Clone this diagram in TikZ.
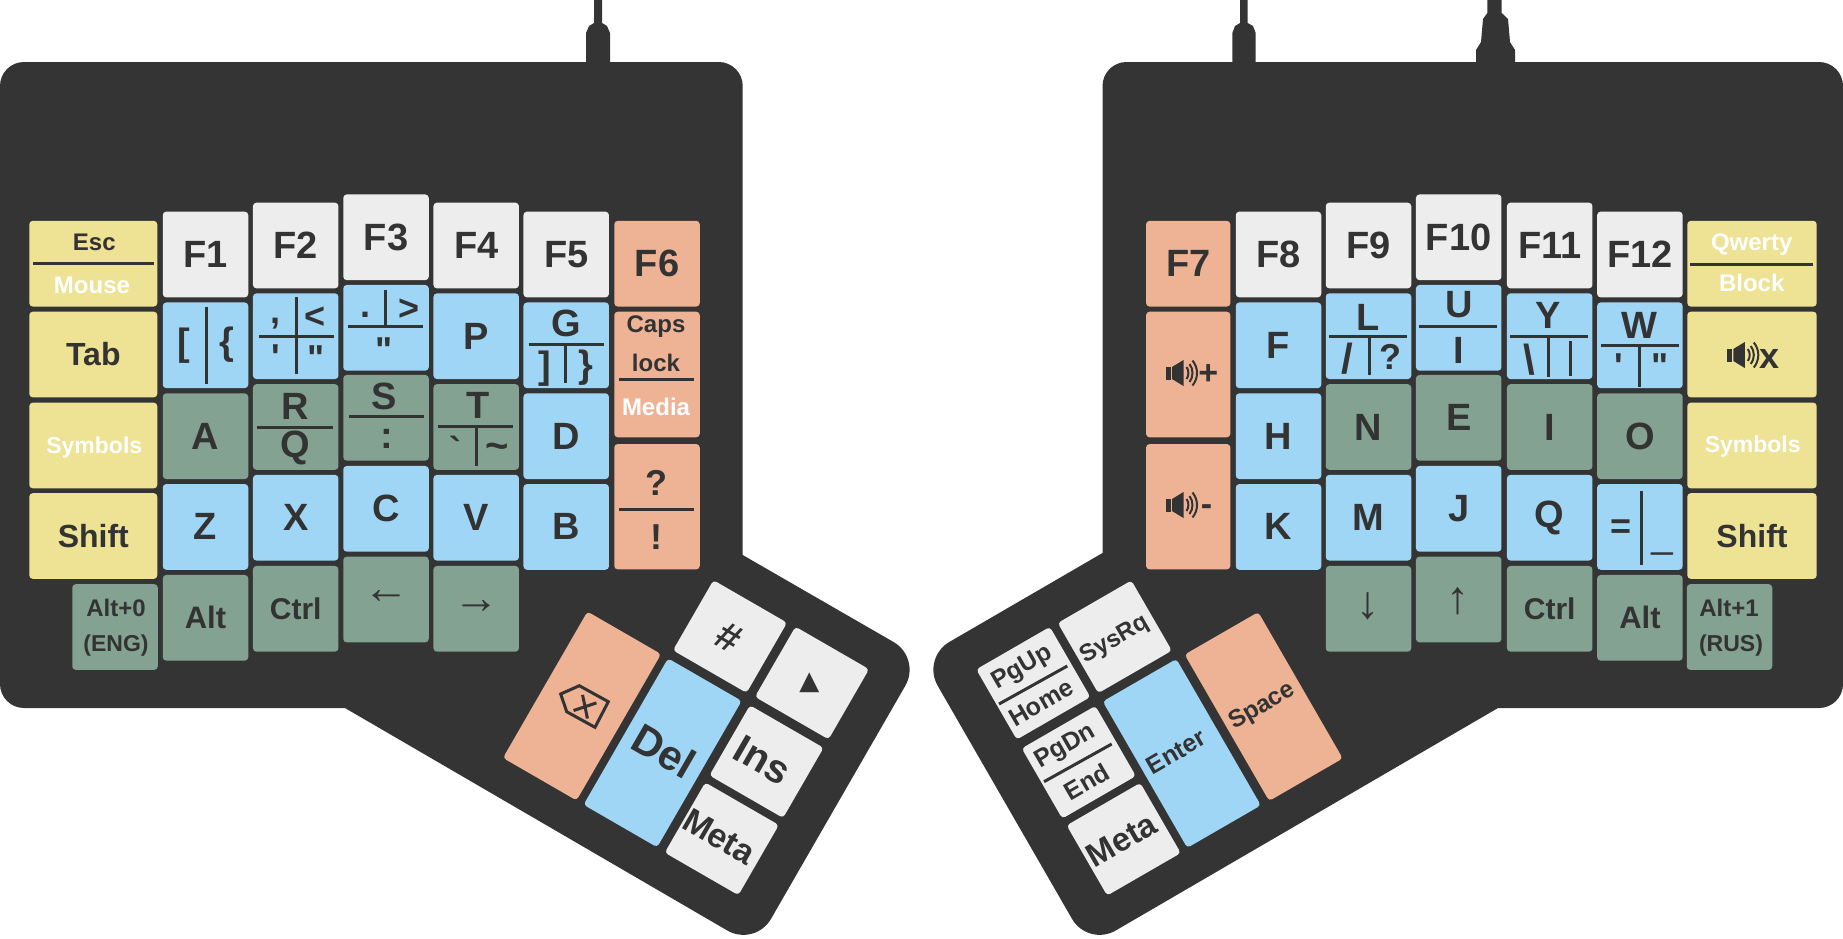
\documentclass[tikz,border=0pt]{standalone}
\usepackage{fontspec}
\newfontfamily\keyfont{Liberation Sans}
\newfontfamily\symbolfont{DejaVu Sans}
\definecolor{casegray}{HTML}{343434}
\definecolor{inkdark}{HTML}{333333}
\definecolor{keywhite}{HTML}{EDEDED}
\definecolor{keyblue}{HTML}{9FD6F6}
\definecolor{keygreen}{HTML}{84A292}
\definecolor{keyyellow}{HTML}{EEE294}
\definecolor{keyorange}{HTML}{EEB294}
\newcommand{\tagsize}[1]{\fontsize{#1}{#1}\selectfont\keyfont\bfseries}
\tikzset{
  keycap/.style={rectangle, rounded corners=3.5pt, inner sep=0pt, minimum width=85.5pt, minimum height=85.7pt, text=inkdark, font=\tagsize{38}},
  whitecap/.style={keycap, fill=keywhite},
  bluecap/.style={keycap, fill=keyblue},
  greencap/.style={keycap, fill=keygreen},
  yellowcap/.style={keycap, fill=keyyellow},
  orangecap/.style={keycap, fill=keyorange},
  keytag/.style={inner sep=0pt, text=inkdark, font=\tagsize{#1}},
  keytag/.default=36,
  lighttag/.style={inner sep=0pt, text=white, font=\tagsize{24}},
  keyrule/.style={draw=inkdark, line width=3pt},
  arrowtag/.style={inner sep=0pt, text=inkdark, font=\fontsize{46}{46}\selectfont\keyfont\mdseries},
  speaker/.pic={
    \fill[inkdark] (-16,-6.5) rectangle (-11,6.5);
    \fill[inkdark] (-10,-6) -- (1.5,-13) -- (1.5,13) -- (-10,6) -- cycle;
    \draw[inkdark, line width=2pt] (4.5,-6) .. controls (7,-3) and (7,3) .. (4.5,6);
    \draw[inkdark, line width=2pt] (7.5,-9) .. controls (11.5,-4) and (11.5,4) .. (7.5,9);
    \draw[inkdark, line width=2pt] (10.5,-12.5) .. controls (16.5,-5) and (16.5,5) .. (10.5,12.5);
  }
}
\begin{document}
\begin{tikzpicture}[x=1pt, y=-1pt]
    \useasboundingbox (0,0) rectangle (1843,938);

    % Cases
    \fill[casegray] (0,100) [rounded corners=24pt] -- (0,62) -- (742.7,62) [sharp corners] -- (742.7,555)
        [rounded corners=32pt] -- (921.3,658) -- (755,946.6) [sharp corners] -- (345,708)
        [rounded corners=24pt] -- (0,708) [sharp corners] -- (0,100) -- cycle;
    \fill[casegray] (1843,100) [rounded corners=24pt] -- (1843,62) -- (1102.5,62) [sharp corners] -- (1102.5,553)
        [rounded corners=32pt] -- (921.7,658) -- (1088,946.6) [sharp corners] -- (1498,708)
        [rounded corners=24pt] -- (1843,708) [sharp corners] -- (1843,100) -- cycle;

    % Cables
    \fill[casegray] (594,0) -- (594,23) -- (589,26) -- (586,33) -- (586,63) -- (610,63) -- (610,33) -- (607,26) -- (602,23) -- (602,0) -- cycle;
    \fill[casegray] (1240,0) -- (1240,23) -- (1235,26) -- (1232.3,33) -- (1232.3,63) -- (1255.7,63) -- (1255.7,33) -- (1253,26) -- (1247.7,23) -- (1247.7,0) -- cycle;
    \fill[casegray] (1487.3,0) -- (1487.3,13) -- (1483,19) -- (1481,42) -- (1476,50) -- (1476,63) -- (1515,63) -- (1515,50) -- (1510,42) -- (1508,19) -- (1501.7,13) -- (1501.7,0) -- cycle;

    % Left outer column
    \node[yellowcap, minimum width=128pt] (esc) at (93.3,263.7) {};
    \node[keytag=24] (escTop) at (94.3,242.3) {Esc};
    \node[lighttag] (escLow) at (92,285) {Mouse};
    \draw[keyrule] (33.3,263.3) -- (153.7,263.3);
    \node[yellowcap, minimum width=128pt, font=\tagsize{32}] (tab) at (93.3,354.5) {Tab};
    \node[yellowcap, minimum width=128pt] (symbolsL) at (93.3,445.5) {};
    \node[lighttag, font=\tagsize{23}] (symbolsLTag) at (94.3,448) {Symbols};
    \node[yellowcap, minimum width=128pt, font=\tagsize{32}] (shiftL) at (93.3,536) {Shift};
    \node[greencap] (altZero) at (115,627) {};
    \node[keytag=24] (altZeroTop) at (116,608.3) {Alt+0};
    \node[keytag=23] (altZeroLow) at (116,645.7) {(ENG)};

    % F1 column
    \node[whitecap] (fOne) at (205.5,254.5) {F1};
    \node[bluecap] (brace) at (205.5,345.3) {};
    \node[keytag=38] (braceA) at (184.3,345.7) {[};
    \node[keytag=38] (braceB) at (226.7,345) {\{};
    \draw[keyrule] (206,306.7) -- (206,384);
    \node[greencap] (keyA) at (205.5,436.2) {A};
    \node[bluecap] (keyZ) at (205.5,526.9) {Z};
    \node[greencap, font=\tagsize{31}] (altL) at (205.5,617.8) {Alt};

    % F2 column
    \node[whitecap] (fTwo) at (295.7,245.5) {F2};
    \node[bluecap] (comma) at (295.7,336.2) {};
    \node[keytag] (commaA) at (275.7,323.3) {,};
    \node[keytag] (commaB) at (315,317.3) {<};
    \node[keytag] (commaC) at (276,357) {'};
    \node[keytag] (commaD) at (316,358.6) {"};
    \draw[keyrule] (296,297.3) -- (296,374.3);
    \draw[keyrule] (259,336.7) -- (334,336.7);
    \node[greencap] (keyRQ) at (295.7,427) {};
    \node[keytag=38] (keyR) at (295.7,406.7) {R};
    \node[keytag=38] (keyQ) at (295.7,448.3) {Q};
    \draw[keyrule] (257.3,427.3) -- (332.7,427.3);
    \node[bluecap] (keyX) at (295.7,517.7) {X};
    \node[greencap, font=\tagsize{30}] (ctrlL) at (295.7,608.8) {Ctrl};

    % F3 column
    \node[whitecap] (fThree) at (386,237.3) {F3};
    \node[bluecap] (dot) at (386,327.8) {};
    \node[keytag] (dotA) at (365.7,315) {.};
    \node[keytag] (dotB) at (409.3,309.3) {>};
    \node[keytag] (dotC) at (384.3,350.3) {"};
    \draw[keyrule] (385.7,290) -- (385.7,326.7);
    \draw[keyrule] (348.3,326.7) -- (423.3,326.7);
    \node[greencap] (keyS) at (386,417.8) {};
    \node[keytag=38] (keySTop) at (384,396) {S};
    \node[keytag=38] (keySLow) at (386.7,439.3) {:};
    \draw[keyrule] (348.7,416.7) -- (423.7,416.7);
    \node[bluecap] (keyC) at (386,508.8) {C};
    \node[greencap] (left) at (386,599.5) {};
    \node[arrowtag] (leftTag) at (386.7,597.3) {←};

    % F4 column
    \node[whitecap] (fFour) at (476.2,245.5) {F4};
    \node[bluecap] (keyP) at (476.2,336.2) {P};
    \node[greencap] (keyT) at (476.2,427) {};
    \node[keytag=38] (keyTTop) at (477.7,405.7) {T};
    \node[keytag] (keyTA) at (455.7,449) {`};
    \node[keytag=40] (keyTB) at (497.3,451) {\char`~};
    \draw[keyrule] (438,426.7) -- (513,426.7);
    \draw[keyrule] (476.7,426.7) -- (476.7,466);
    \node[bluecap] (keyV) at (476.2,517.7) {V};
    \node[greencap] (right) at (476.2,608.8) {};
    \node[arrowtag] (rightTag) at (476,606.7) {→};

    % F5 column
    \node[whitecap] (fFive) at (566.2,254.5) {F5};
    \node[bluecap] (keyG) at (566.2,345.3) {};
    \node[keytag=38] (keyGTop) at (566,323.3) {G};
    \node[keytag=38] (keyGA) at (545,368.3) {]};
    \node[keytag=38] (keyGB) at (585.7,367.7) {\}};
    \draw[keyrule] (528.7,344.7) -- (603.7,344.7);
    \draw[keyrule] (565.7,344.7) -- (565.7,383.3);
    \node[bluecap] (keyD) at (566.2,436.2) {D};
    \node[bluecap] (keyB) at (566.2,526.9) {B};

    % F6 column
    \node[orangecap] (fSix) at (657,263.7) {F6};
    \node[orangecap, minimum height=125.6pt] (caps) at (657,374.5) {};
    \node[keytag=24] (capsA) at (656,326.7) {Caps};
    \node[keytag=24] (capsB) at (656,363.3) {lock};
    \node[lighttag] (capsC) at (656,407.3) {Media};
    \draw[keyrule] (619.3,379.3) -- (694.3,379.3);
    \node[orangecap, minimum height=125.3pt] (quest) at (657,506.7) {};
    \node[keytag] (questA) at (656,483) {?};
    \node[keytag] (questB) at (656,537) {!};
    \draw[keyrule] (619.3,509) -- (694.3,509);

    % Left thumb
    \node[orangecap, minimum width=85pt, minimum height=169pt, rotate=-30] (bspace) at (582,706) {};
    \draw[inkdark, line width=3pt] (560.7,694) -- (579.3,685.7) -- (608.3,701.7) -- (595,727.3) -- (566.7,711.7) -- cycle;
    \begin{scope}[shift={(585,706.7)}, rotate=-30]
        \draw[inkdark, line width=3pt] (-8,-9) -- (8,9);
        \draw[inkdark, line width=3pt] (8,-9) -- (-8,9);
    \end{scope}
    \node[bluecap, minimum width=85pt, minimum height=169pt, rotate=-30] (del) at (662.6,752.8) {};
    \node[keytag=42, rotate=-30] (delTag) at (664.3,750.7) {Del};
    \node[whitecap, minimum width=85pt, minimum height=81pt, rotate=-30] (hash) at (730,636.5) {};
    \node[keytag=40, rotate=-30] (hashTag) at (729.3,637.3) {\#};
    \node[whitecap, minimum width=85pt, minimum height=81pt, rotate=-30] (tri) at (812,683) {};
    \node[keytag=26] (triTag) at (809.3,682.7) {\symbolfont\mdseries ▲};
    \node[whitecap, minimum width=85pt, minimum height=81pt, rotate=-30] (ins) at (766.5,761.6) {};
    \node[keytag=40, rotate=-30] (insTag) at (762.7,760) {Ins};
    \node[whitecap, minimum width=85pt, minimum height=81pt, rotate=-30] (metaL) at (721.8,838.8) {};
    \node[keytag=34, rotate=-30] (metaLTag) at (719.3,836.7) {Meta};

    % F7 column
    \node[orangecap, minimum width=84.3pt] (fSeven) at (1188.2,263.7) {F7};
    \node[orangecap, minimum width=84.3pt, minimum height=125.6pt] (volUp) at (1188.2,374.5) {};
    \pic at (1182,373) {speaker};
    \node[keytag=34] (volUpTag) at (1208.3,375) {+};
    \node[orangecap, minimum width=84.3pt, minimum height=125.3pt] (volDown) at (1188.2,506.7) {};
    \pic at (1182,505) {speaker};
    \node[keytag=34] (volDownTag) at (1206.4,510.5) {-};

    % F8 column
    \node[whitecap] (fEight) at (1278.5,254.5) {F8};
    \node[bluecap] (keyF) at (1278.5,345.3) {F};
    \node[bluecap] (keyH) at (1278.5,436.2) {H};
    \node[bluecap] (keyK) at (1278.5,526.9) {K};

    % F9 column
    \node[whitecap] (fNine) at (1368.5,245.5) {F9};
    \node[bluecap] (keyL) at (1368.5,336.2) {};
    \node[keytag=38] (keyLTop) at (1368.3,317.3) {L};
    \node[keytag=42] (keyLA) at (1347.3,358.3) {/};
    \node[keytag] (keyLB) at (1390,357.3) {?};
    \draw[keyrule] (1329,336.3) -- (1407.3,336.3);
    \draw[keyrule] (1369.3,336.3) -- (1369.3,375);
    \node[greencap] (keyN) at (1368.5,427) {N};
    \node[bluecap] (keyM) at (1368.5,517.7) {M};
    \node[greencap] (down) at (1368.5,608.8) {};
    \node[arrowtag] (downTag) at (1368.2,606.7) {↓};

    % F10 column
    \node[whitecap] (fTen) at (1458.7,237.3) {F10};
    \node[bluecap] (keyU) at (1458.7,327.8) {};
    \node[keytag=38] (keyUTop) at (1459,305) {U};
    \node[keytag=38] (keyULow) at (1459,350) {I};
    \draw[keyrule] (1419.3,326) -- (1497.3,326);
    \node[greencap] (keyE) at (1458.7,417.8) {E};
    \node[bluecap] (keyJ) at (1458.7,508.8) {J};
    \node[greencap] (up) at (1458.7,599.5) {};
    \node[arrowtag] (upTag) at (1458,601) {↑};

    % F11 column
    \node[whitecap] (fEleven) at (1549.7,245.5) {F11};
    \node[bluecap] (keyY) at (1549.7,336.2) {};
    \node[keytag=38] (keyYTop) at (1547.7,315) {Y};
    \node[keytag=42] (keyYA) at (1529.3,359.3) {\textbackslash};
    \draw[keyrule] (1510,336.7) -- (1588.3,336.7);
    \draw[keyrule] (1548.7,336.7) -- (1548.7,376.7);
    \draw[keyrule] (1570,341) -- (1570,376);
    \node[greencap] (keyI) at (1549.7,427) {I};
    \node[bluecap] (keyQR) at (1549.7,517.7) {Q};
    \node[greencap, font=\tagsize{30}] (ctrlR) at (1549.7,608.8) {Ctrl};

    % F12 column
    \node[whitecap] (fTwelve) at (1639.9,254.5) {F12};
    \node[bluecap] (keyW) at (1639.9,345.3) {};
    \node[keytag=38] (keyWTop) at (1639.3,325) {W};
    \node[keytag] (keyWA) at (1619,366.3) {'};
    \node[keytag] (keyWB) at (1660,366.3) {"};
    \draw[keyrule] (1601,345) -- (1679,345);
    \draw[keyrule] (1639.7,345) -- (1639.7,386.7);
    \node[greencap] (keyO) at (1639.9,436.2) {O};
    \node[bluecap] (equal) at (1639.9,526.9) {};
    \node[keytag] (equalA) at (1620.5,529) {=};
    \node[keytag=38] (equalB) at (1661.8,552) {\addfontfeature{FakeBold=2}\_};
    \draw[keyrule] (1641.4,490.7) -- (1641.4,565.3);
    \node[greencap, font=\tagsize{31}] (altR) at (1639.9,617.8) {Alt};

    % Right outer column
    \node[yellowcap, minimum width=129.4pt] (qwerty) at (1752,263.7) {};
    \node[lighttag] (qwertyTop) at (1751.7,245) {Qwerty};
    \node[lighttag] (qwertyLow) at (1751.7,283.3) {Block};
    \draw[keyrule] (1690,264) -- (1812.7,264);
    \node[yellowcap, minimum width=129.4pt] (mute) at (1752,354.5) {};
    \pic at (1743.3,355) {speaker};
    \node[keytag=36] (muteTag) at (1769.3,359.3) {x};
    \node[yellowcap, minimum width=129.4pt] (symbolsR) at (1752,445.5) {};
    \node[lighttag, font=\tagsize{23}] (symbolsRTag) at (1752.7,447) {Symbols};
    \node[yellowcap, minimum width=129.4pt, font=\tagsize{32}] (shiftR) at (1752,536) {Shift};
    \node[greencap] (altOne) at (1729.5,627) {};
    \node[keytag=24] (altOneTop) at (1729,608.3) {Alt+1};
    \node[keytag=23] (altOneLow) at (1731,645.7) {(RUS)};

    % Right thumb
    \node[orangecap, minimum width=85pt, minimum height=169pt, rotate=30] (space) at (1263.7,706.5) {};
    \node[keytag=24.5, rotate=30] (spaceTag) at (1262.3,706.7) {Space};
    \node[bluecap, minimum width=85pt, minimum height=169pt, rotate=30] (enter) at (1181.8,753.4) {};
    \node[keytag=25, rotate=30] (enterTag) at (1176,751.7) {Enter};
    \node[whitecap, minimum width=85pt, minimum height=81pt, rotate=30] (sysrq) at (1114.8,636.8) {};
    \node[keytag=24, rotate=30] (sysrqTag) at (1115,640) {SysRq};
    \node[whitecap, minimum width=85pt, minimum height=81pt, rotate=30] (pgup) at (1033.3,683.2) {};
    \node[keytag=25, rotate=30] (pgupTop) at (1022.3,668.3) {PgUp};
    \node[keytag=25, rotate=30] (pgupLow) at (1041,702.7) {Home};
    \draw[keyrule] (999,704) -- (1067.3,666);
    \node[whitecap, minimum width=85pt, minimum height=81pt, rotate=30] (pgdn) at (1078.8,762.2) {};
    \node[keytag=25, rotate=30] (pgdnTop) at (1065.7,746.7) {PgDn};
    \node[keytag=25, rotate=30] (pgdnLow) at (1086.7,781.7) {End};
    \draw[keyrule] (1044,781.7) -- (1111.7,744);
    \node[whitecap, minimum width=85pt, minimum height=81pt, rotate=30] (metaR) at (1123.7,839.2) {};
    \node[keytag=33, rotate=30] (metaRTag) at (1121.7,840) {Meta};

\end{tikzpicture}
\end{document}
